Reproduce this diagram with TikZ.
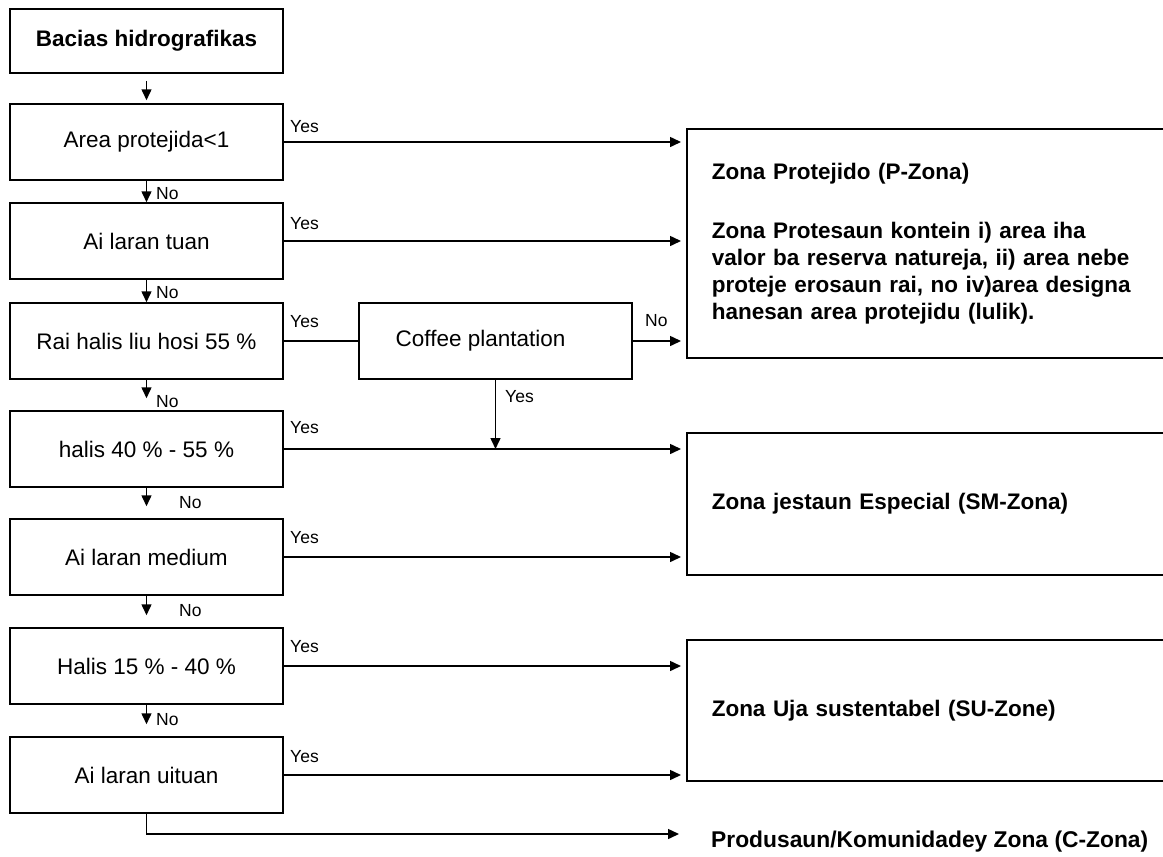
\documentclass[tikz,border=0pt]{standalone}
\usepackage{fontspec}
\setmainfont{Liberation Sans}
\usetikzlibrary{arrows.meta}
\begin{document}
\begin{tikzpicture}[x=1pt,y=-1pt,
 lbox/.style={draw=black, line width=1.5pt, minimum width=273pt, minimum height=76pt, inner sep=0pt, font=\fontsize{22.5}{27}\selectfont},
 zbox/.style={draw=black, line width=1.5pt, anchor=north west, text width=460pt, align=left, inner xsep=25pt, inner ysep=0pt, font=\fontsize{22.5}{27}\selectfont\bfseries},
 lab/.style={anchor=west, inner sep=0pt, font=\fontsize{17.5}{20}\selectfont},
 conn/.style={line width=1.5pt},
 arr/.style={conn, -{Triangle[length=11pt,width=10pt]}}
]
\clip (0,0) rectangle (1163,857);
% left column
\node[lbox, minimum height=64pt, font=\fontsize{22.5}{27}\selectfont\bfseries] (b0) at (146.5,41) {Bacias hidrografikas};
\node[lbox] (b1) at (146.5,142) {Area protejida<1};
\node[lbox] (b2) at (146.5,241) {Ai laran tuan};
\node[lbox] (b3) at (146.5,341) {Rai halis liu hosi 55 \%};
\node[lbox] (b4) at (146.5,449) {halis 40 \% - 55 \%};
\node[lbox] (b5) at (146.5,557) {Ai laran medium};
\node[lbox] (b6) at (146.5,666) {Halis 15 \% - 40 \%};
\node[lbox] (b7) at (146.5,775) {Ai laran uituan};
% coffee
\node[lbox] (cof) at (495.5,341) {Coffee plantation\kern30pt};
% zones
\node[zbox, minimum height=229pt] (pz) at (686,128) {Zona Protejido (P-Zona)\\[32pt]
Zona Protesaun kontein i) area iha\\
valor ba reserva natureja, ii) area nebe\\
proteje erosaun rai, no iv)area designa\\
hanesan area protejidu (lulik).};
\node[zbox, minimum height=142pt] (sm) at (686,432) {Zona jestaun Especial (SM-Zona)};
\node[zbox, minimum height=141pt] (su) at (686,639) {Zona Uja sustentabel (SU-Zone)};
\node[anchor=west, inner sep=0pt, font=\fontsize{22.8}{27}\selectfont\bfseries] (cz) at (711,842) {Produsaun/Komunidadey Zona (C-Zona)};
\coordinate (cend) at (679,834);
% vertical flow
\draw[arr, shorten <=7pt, shorten >=3pt] (b0) -- (b1);
\draw[arr] (b1) -- (b2);
\draw[arr] (b2) -- (b3);
\draw[arr, shorten >=12pt] (b3) -- (b4);
\draw[arr, shorten >=12pt] (b4) -- (b5);
\draw[arr, shorten >=12pt] (b5) -- (b6);
\draw[arr, shorten >=12pt] (b6) -- (b7);
\draw[arr] (b7.south) |- (cend);
% yes branches
\draw[arr, shorten >=5pt] (b1.east) -- (b1.east -| pz.west);
\draw[arr, shorten >=5pt] (b2.east) -- (b2.east -| pz.west);
\draw[conn] (b3.east) -- (cof.west);
\draw[arr, shorten >=5pt] (cof.east) -- (cof.east -| pz.west);
\draw[arr] (cof.south) -- (cof.south |- b4.east);
\draw[arr, shorten >=5pt] (b4.east) -- (b4.east -| sm.west);
\draw[arr, shorten >=5pt] (b5.east) -- (b5.east -| sm.west);
\draw[arr, shorten >=5pt] (b6.east) -- (b6.east -| su.west);
\draw[arr, shorten >=5pt] (b7.east) -- (b7.east -| su.west);
% labels
\node[lab] (y1) at (290,127) {Yes};
\node[lab] (y2) at (290,224) {Yes};
\node[lab] (y3) at (290,322) {Yes};
\node[lab] (y4) at (290,428) {Yes};
\node[lab] (y5) at (290,538) {Yes};
\node[lab] (y6) at (290,647) {Yes};
\node[lab] (y7) at (290,757) {Yes};
\node[lab] (yc) at (505,397) {Yes};
\node[lab] (nc) at (645,321) {No};
\node[lab] (n1) at (156,194) {No};
\node[lab] (n2) at (156,293) {No};
\node[lab] (n3) at (156,402) {No};
\node[lab] (n4) at (179,503) {No};
\node[lab] (n5) at (179,611) {No};
\node[lab] (n6) at (156,720) {No};
\end{tikzpicture}
\end{document}
